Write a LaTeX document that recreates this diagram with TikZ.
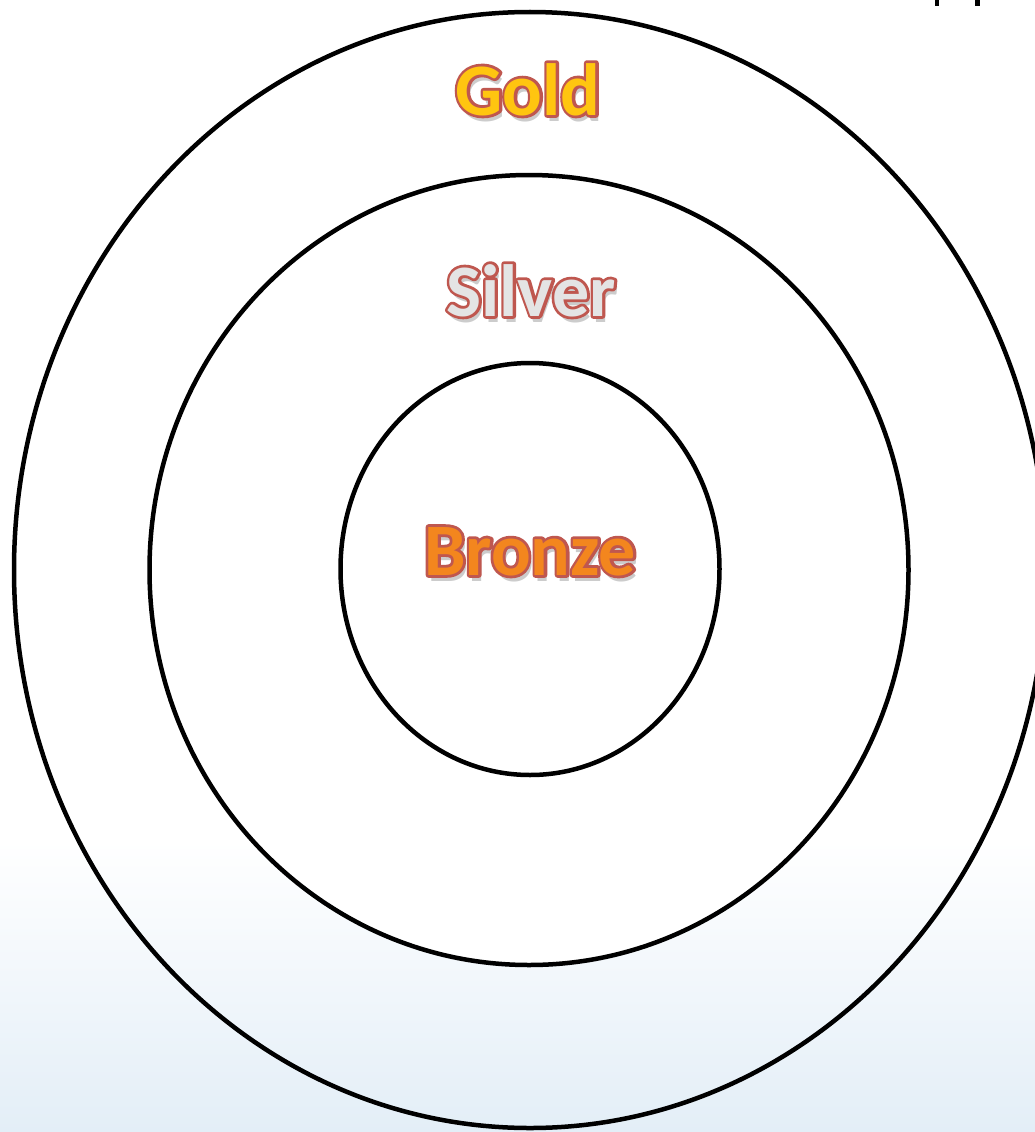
\documentclass[tikz,border=0pt]{standalone}
\usepackage{fontspec}
\setmainfont{Carlito}
\usepackage{tikz}
\usetikzlibrary{shapes.geometric}

\definecolor{fondbleu}{HTML}{E3EEF7}
\definecolor{orfill}{HTML}{FFC510}
\definecolor{argentfill}{HTML}{E4E4E4}
\definecolor{bronzefill}{HTML}{F3861E}
% contour seul, en rouge brique
\newcommand{\cerne}[1]{\special{pdf:literal direct 1 Tr 5.6 w 1 j 0.75 0.34 0.31 RG}#1\special{pdf:literal direct 0 Tr}}

\tikzset{
  anneau/.style={draw=black, line width=4.5pt, ellipse, inner sep=0pt, outer sep=0pt},
  metal/.style={font=\fontsize{74}{80}\selectfont\bfseries, inner sep=0pt, anchor=base},
  ombre/.style={metal, text=black, opacity=0.2}
}

\begin{document}
\begin{tikzpicture}[x=1pt, y=-1pt]
        \useasboundingbox (0,0) rectangle (1035,1132);

        % Fond
        \fill[white] (0,0) rectangle (1035,1132);
        \shade[top color=white, bottom color=fondbleu] (0,840) rectangle (1035,1132);

        % Fragments en haut a droite
        \fill[black] (935,0) rectangle (939,6);
        \fill[black] (975,0) rectangle (980,6);

        % Anneaux
        \node[anneau, minimum width=1032pt, minimum height=1116pt] (gold ring) at (530,570) {};
        \node[anneau, fill=white, minimum width=759pt, minimum height=790pt] (silver ring) at (529,570) {};
        \node[anneau, fill=white, minimum width=379pt, minimum height=412pt] (bronze ring) at (530,569) {};

        % Ombres
        \node[ombre] (gold shadow) at (531,121) {Gold};
        \node[ombre] (silver shadow) at (534,322) {Silver};
        \node[ombre] (bronze shadow) at (533,581) {Bronze};

        % Contours
        \node[metal] (gold rim) at (528,115) {\cerne{Gold}};
        \node[metal] (silver rim) at (531,316) {\cerne{Silver}};
        \node[metal] (bronze rim) at (530,575) {\cerne{Bronze}};

        % Textes
        \node[metal, text=orfill] (gold) at (528,115) {Gold};
        \node[metal, text=argentfill] (silver) at (531,316) {Silver};
        \node[metal, text=bronzefill] (bronze) at (530,575) {Bronze};
    \end{tikzpicture}
\end{document}
